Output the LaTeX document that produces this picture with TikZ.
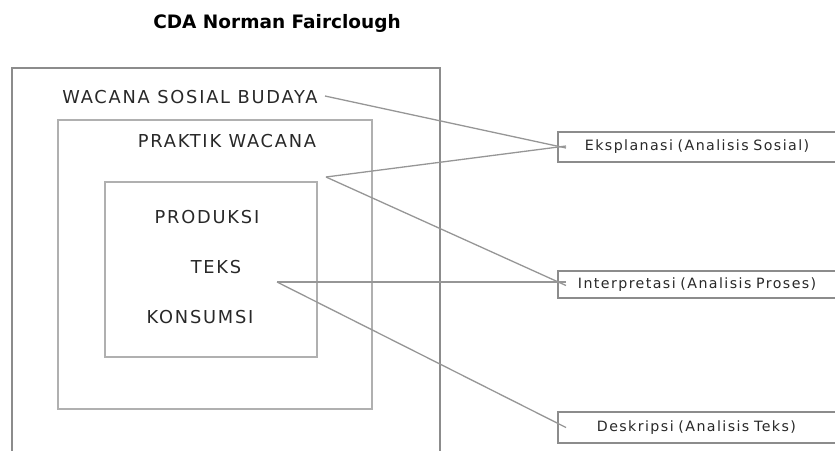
\documentclass[tikz,border=0pt]{standalone}
\usepackage{fontspec}
\setmainfont{DejaVu Sans}
\newfontfamily\lblfont[LetterSpace=10]{DejaVu Sans}
\usepackage{tikz}
\usetikzlibrary{positioning, calc}
\definecolor{frameGray}{RGB}{140, 140, 140}
\definecolor{innerGray}{RGB}{176, 176, 176}
\definecolor{linkGray}{RGB}{150, 150, 150}
\definecolor{textDark}{RGB}{40, 40, 40}

\begin{document}
\begin{tikzpicture}[
    x=1pt, y=-1pt,
    title/.style={font=\bfseries\fontsize{18.5}{20}\selectfont, text=black},
    layer/.style={font=\lblfont\fontsize{17.8}{19}\selectfont, text=textDark, inner sep=0pt},
    resbox/.style={rectangle, draw=frameGray, line width=1.8pt, anchor=west, minimum width=300pt, text width=286pt, align=left, font=\lblfont\fontsize{14.2}{16}\selectfont, text=textDark},
    link/.style={linkGray, line width=1.3pt}
]
    \useasboundingbox (0,0) rectangle (835,450);
    \clip (0,0) rectangle (835,450);

    % Frames
    \draw[frameGray, line width=2pt] (12,68) rectangle (440,480);
    \draw[innerGray, line width=2pt] (58,120) rectangle (372,409);
    \draw[innerGray, line width=2pt] (105,182) rectangle (317,357);

    % Nodes
    \node[title] (head) at (277,23) {CDA Norman Fairclough};
    \node[layer] (wsb) at (190,97) {WACANA SOSIAL BUDAYA};
    \node[layer] (pw) at (227,141) {PRAKTIK WACANA};
    \node[layer] (prod) at (207,217) {PRODUKSI};
    \node[layer] (teks) at (216,267) {TEKS};
    \node[layer] (kons) at (200,317) {KONSUMSI};

    \node[resbox, minimum height=30pt] (eks) at (557,147) {\hspace*{20pt}Eksplanasi (Analisis Sosial)};
    \node[resbox, minimum height=27pt] (intp) at (557,284.5) {\hspace*{13pt}Interpretasi (Analisis Proses)};
    \node[resbox, minimum height=31pt] (desk) at (557,427.5) {\hspace*{32pt}Deskripsi (Analisis Teks)};

    \coordinate (wsbEnd) at (325,96);
    \coordinate (pwEnd) at (326,177);
    \coordinate (teksEnd) at (277,282);

    % Links
    \draw[link] (wsbEnd) -- ([xshift=9pt, yshift=-1pt]eks.west);
    \draw[link] (pwEnd) -- ([xshift=9pt, yshift=1pt]eks.west);
    \draw[link] (pwEnd) -- ([xshift=9pt, yshift=-1pt]intp.west);
    \draw[link] (teksEnd) -- ([xshift=9pt]intp.west |- teksEnd);
    \draw[link] (teksEnd) -- ([xshift=9pt]desk.west);
\end{tikzpicture}
\end{document}
